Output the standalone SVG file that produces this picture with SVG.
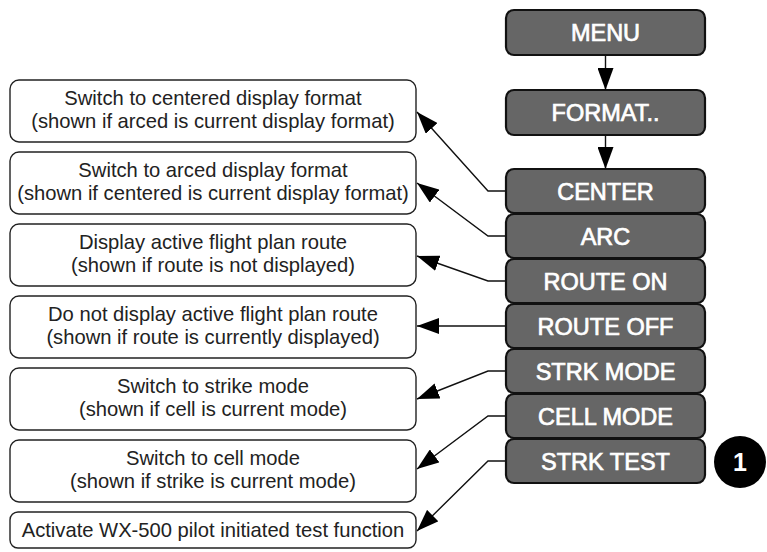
<svg xmlns="http://www.w3.org/2000/svg" width="767" height="552" viewBox="0 0 767 552">
<defs>
<marker id="ah" markerUnits="userSpaceOnUse" markerWidth="22" markerHeight="16" refX="22" refY="8" orient="auto">
<path d="M0,0 L22,8 L0,16 z" fill="#000"/>
</marker>
<style>
.desc rect{fill:#fff;stroke:#222;stroke-width:1.4}
.desc text{font-family:"Liberation Sans",Arial,sans-serif;font-size:20.2px;fill:#222;text-anchor:middle}
.btn rect{fill:#666;stroke:#111;stroke-width:2.2}
.btn text{font-family:"Liberation Sans",Arial,sans-serif;font-size:23.5px;fill:#fff;stroke:#fff;stroke-width:0.7;text-anchor:middle}
.conn path{fill:none;stroke:#111;stroke-width:1.4;marker-end:url(#ah)}
</style>
</defs>
<rect width="767" height="552" fill="#fff"/>

<g id="menu" class="btn"><rect x="506" y="10" width="199" height="45" rx="8"/><text x="605.5" y="41">MENU</text></g>
<g id="format" class="btn"><rect x="506" y="90" width="199" height="45" rx="8"/><text x="605.5" y="121">FORMAT..</text></g>
<g id="center" class="btn"><rect x="506" y="169" width="199" height="44" rx="8"/><text x="605.5" y="199.5">CENTER</text></g>
<g id="arc" class="btn"><rect x="506" y="214" width="199" height="44" rx="8"/><text x="605.5" y="244.5">ARC</text></g>
<g id="route-on" class="btn"><rect x="506" y="259" width="199" height="44" rx="8"/><text x="605.5" y="289.5">ROUTE ON</text></g>
<g id="route-off" class="btn"><rect x="506" y="304" width="199" height="44" rx="8"/><text x="605.5" y="334.5">ROUTE OFF</text></g>
<g id="strk-mode" class="btn"><rect x="506" y="349" width="199" height="44" rx="8"/><text x="605.5" y="379.5">STRK MODE</text></g>
<g id="cell-mode" class="btn"><rect x="506" y="394" width="199" height="44" rx="8"/><text x="605.5" y="424.5">CELL MODE</text></g>
<g id="strk-test" class="btn"><rect x="506" y="439" width="199" height="44" rx="8"/><text x="605.5" y="469.5">STRK TEST</text></g>

<g id="badge-1"><circle cx="740" cy="462" r="26" fill="#000"/><text x="740" y="471" font-family="Liberation Sans,Arial,sans-serif" font-size="25" font-weight="bold" fill="#fff" text-anchor="middle">1</text></g>

<g id="d-center" class="desc"><rect x="10" y="80" width="406" height="62" rx="9"/><text x="213" y="105">Switch to centered display format</text><text x="213" y="128">(shown if arced is current display format)</text></g>
<g id="d-arc" class="desc"><rect x="10" y="152" width="406" height="62" rx="9"/><text x="213" y="177">Switch to arced display format</text><text x="213" y="200">(shown if centered is current display format)</text></g>
<g id="d-route-on" class="desc"><rect x="10" y="224" width="406" height="62" rx="9"/><text x="213" y="249">Display active flight plan route</text><text x="213" y="272">(shown if route is not displayed)</text></g>
<g id="d-route-off" class="desc"><rect x="10" y="296" width="406" height="62" rx="9"/><text x="213" y="321">Do not display active flight plan route</text><text x="213" y="344">(shown if route is currently displayed)</text></g>
<g id="d-strk-mode" class="desc"><rect x="10" y="368" width="406" height="62" rx="9"/><text x="213" y="393">Switch to strike mode</text><text x="213" y="416">(shown if cell is current mode)</text></g>
<g id="d-cell-mode" class="desc"><rect x="10" y="440" width="406" height="62" rx="9"/><text x="213" y="465">Switch to cell mode</text><text x="213" y="488">(shown if strike is current mode)</text></g>
<g id="d-strk-test" class="desc"><rect x="10" y="512" width="406" height="36" rx="8"/><text x="213" y="537">Activate WX-500 pilot initiated test function</text></g>

<g id="connectors" class="conn">
<path d="M605.5,55 L605.5,90"/>
<path d="M605.5,135 L605.5,169"/>
<path d="M506,191 L488,191 L417,112"/>
<path d="M506,236 L488,236 L417,183"/>
<path d="M506,281 L488,281 L417,256"/>
<path d="M506,326 L417,326"/>
<path d="M506,371 L488,371 L417,399"/>
<path d="M506,416 L488,416 L417,469"/>
<path d="M506,461 L488,461 L417,531"/>
</g>
</svg>
